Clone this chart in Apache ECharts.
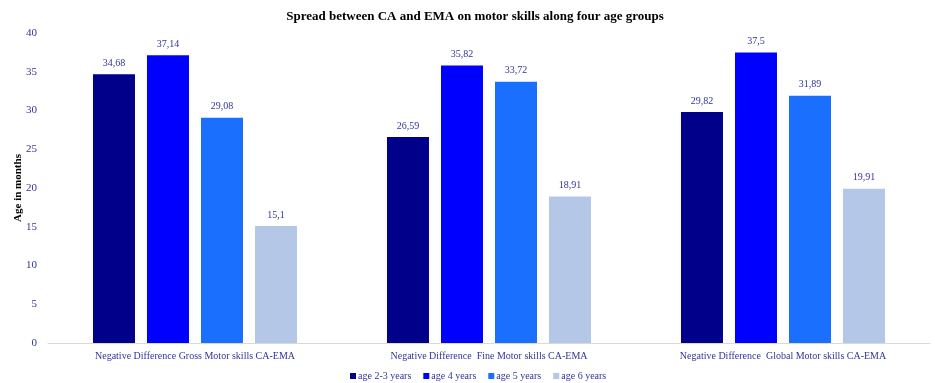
<!DOCTYPE html>
<html><head><meta charset="utf-8">
<script src="https://cdn.jsdelivr.net/npm/echarts@6/dist/echarts.min.js"></script>
<style>html,body{margin:0;padding:0;background:#fff}#c{width:935px;height:383px}</style>
</head><body><div id="c"></div>
<script>
const categories = ["Negative Difference Gross Motor skills CA-EMA","Negative Difference  Fine Motor skills CA-EMA","Negative Difference  Global Motor skills CA-EMA"];
const seriesNames = ["age 2-3 years","age 4 years","age 5 years","age 6 years"];
const age23 = [34.68, 26.59, 29.82];
const age4 = [37.14, 35.82, 37.5];
const age5 = [29.08, 33.72, 31.89];
const age6 = [15.1, 18.91, 19.91];
const colors = ["#00008B","#0000FF","#1A6FFF","#B4C7E7"];
const yTicks = [0,5,10,15,20,25,30,35,40];
const F = "'Liberation Serif','Times New Roman',serif";
const txt = "#333399";
const chart = echarts.init(document.getElementById('c'));
const mk = (name, data, i) => ({
  name, type:'bar', data, barWidth:42, barGap:'28.6%',
  itemStyle:{color:colors[i]},
  label:{show:true, position:'top', distance:6, color:txt, fontFamily:F, fontSize:10,
    formatter:p=>String(p.value).replace('.',',')}
});
chart.setOption({
  animation:false,
  title:{text:'Spread between CA and EMA on motor skills along four age groups', left:470, textAlign:'center', top:5,
    textStyle:{fontFamily:F, fontSize:13, fontWeight:'bold', color:'#000'}},
  legend:{bottom:-3, left:345, itemWidth:6, itemHeight:6, itemGap:12, icon:'rect',
    textStyle:{fontFamily:F, fontSize:10, color:txt, padding:[0,0,0,-3]}},
  grid:{left:48, right:5, top:33, bottom:40, outerBoundsMode:'none', containLabel:false},
  xAxis:{type:'category', data:categories, axisTick:{show:false},
    axisLine:{lineStyle:{color:'#D9D9D9'}},
    axisLabel:{fontFamily:F, fontSize:10, color:txt, margin:8}},
  yAxis:{type:'value', min:yTicks[0], max:yTicks[yTicks.length-1], interval:5,
    name:'Age in months', nameLocation:'middle', nameGap:24, nameRotate:90, nameMoveOverlap:false,
    nameTextStyle:{fontFamily:F, fontSize:11, fontWeight:'bold', color:'#000'},
    splitLine:{show:false}, axisLine:{show:false}, axisTick:{show:false},
    axisLabel:{fontFamily:F, fontSize:11, color:txt, margin:11}},
  series:[mk(seriesNames[0],age23,0),mk(seriesNames[1],age4,1),mk(seriesNames[2],age5,2),mk(seriesNames[3],age6,3)]
});
</script></body></html>
